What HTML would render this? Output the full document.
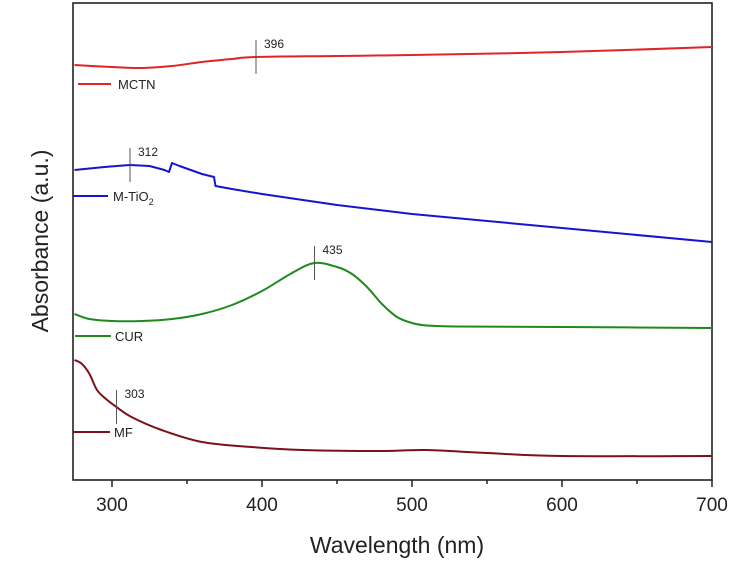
<!DOCTYPE html>
<html><head><meta charset="utf-8"><style>
body{margin:0;background:#fff}
svg{display:block;font-family:"Liberation Sans",Arial,sans-serif}
</style></head><body>
<svg id="chart" width="750" height="575">
<rect x="73" y="3" width="639" height="477" fill="none" stroke="#222" stroke-width="1.6"/>
<g id="ticks"></g>
<g id="series"></g>
<text x="397" y="553" font-size="23" text-anchor="middle" fill="#222">Wavelength (nm)</text>
<text transform="translate(48,241) rotate(-90)" font-size="23" text-anchor="middle" fill="#222">Absorbance (a.u.)</text>
</svg>
<script>
const xTicks=[300,400,500,600,700];
const xMinor=[350,450,550,650];
const mctnX=[275,300,320,340,360,380,396,450,500,600,700];
const mctnY=[4.14,4.12,4.11,4.13,4.17,4.20,4.22,4.23,4.24,4.27,4.32];
const tioX=[275,295,312,325,335,338,340,345,360,368,369,380,400,450,500,600,700];
const tioY=[3.09,3.12,3.14,3.13,3.09,3.07,3.16,3.13,3.05,3.02,2.93,2.90,2.85,2.74,2.65,2.51,2.37];
const curX=[275,285,300,320,340,360,380,400,420,435,450,460,470,480,490,500,510,530,600,700];
const curY=[1.65,1.60,1.58,1.58,1.60,1.65,1.74,1.88,2.06,2.16,2.12,2.05,1.92,1.75,1.62,1.56,1.535,1.525,1.52,1.51];
const mfX=[275,280,285,290,296,303,313,333,360,393,427,480,510,550,600,700];
const mfY=[1.19,1.15,1.05,0.89,0.80,0.72,0.62,0.49,0.37,0.32,0.29,0.28,0.29,0.26,0.23,0.23];
const seriesNames=["MCTN","M-TiO2","CUR","MF"];
const peaks=[396,312,435,303];
const NS="http://www.w3.org/2000/svg";
const xs=w=>112+(w-300)*1.5;
const ys=a=>479-a*100;
function mk(t,a,p){const e=document.createElementNS(NS,t);for(const k in a)e.setAttribute(k,a[k]);(p||document.getElementById('series')).appendChild(e);return e;}
function smooth(P){let d='M'+P[0][0]+','+P[0][1];for(let i=0;i<P.length-1;i++){const p0=P[Math.max(0,i-1)],p1=P[i],p2=P[i+1],p3=P[Math.min(P.length-1,i+2)];
const c1=[p1[0]+(p2[0]-p0[0])/6,p1[1]+(p2[1]-p0[1])/6],c2=[p2[0]-(p3[0]-p1[0])/6,p2[1]-(p3[1]-p1[1])/6];
d+=' C'+c1.join(',')+' '+c2.join(',')+' '+p2.join(',');}return d;}
const tg=document.getElementById('ticks');
xTicks.forEach(t=>{const l=mk('line',{x1:xs(t),x2:xs(t),y1:480,y2:487,stroke:'#222','stroke-width':1.5},tg);


const tx=mk('text',{x:xs(t),y:511,'font-size':19,'text-anchor':'middle',fill:'#222'},tg);tx.textContent=t;

});
xMinor.forEach(t=>{const l=mk('line',{x1:xs(t),x2:xs(t),y1:480,y2:484,stroke:'#222','stroke-width':1.5},tg);

});
const data=[[mctnX,mctnY,'#e02525'],[tioX,tioY,'#1515d0'],[curX,curY,'#1e8a1e'],[mfX,mfY,'#7a1218']];
const legend=[[78,111,84,118],[73,108,196,113],[75,111,336,115],[73,110,432,114]];
data.forEach((d,i)=>{
 const P=d[0].map((w,j)=>[xs(w),ys(d[1][j])]);
 let pl;
 if(i==1) pl=mk('polyline',{points:P.map(p=>p.join(',')).join(' '),fill:'none',stroke:d[2],'stroke-width':2,'stroke-linejoin':'round'});
 else pl=mk('path',{d:smooth(P),fill:'none',stroke:d[2],'stroke-width':2});
 
 
 const L=legend[i];
 const ll=mk('line',{x1:L[0],x2:L[1],y1:L[2],y2:L[2],stroke:d[2],'stroke-width':2});
 
 
 const lt=mk('text',{x:L[3],y:L[2]+5,'font-size':13,fill:'#222'});
 if(i==1){lt.innerHTML='M-TiO<tspan font-size="9" dy="4">2</tspan>';}else lt.textContent=seriesNames[i];
 
 
 const p=peaks[i];
 let k=0;while(k<d[0].length-2&&d[0][k+1]<p)k++;
 const f=(p-d[0][k])/(d[0][k+1]-d[0][k]);const v=d[1][k]+f*(d[1][k+1]-d[1][k]);
 const py=ys(v);
 const ml=mk('line',{x1:xs(p),x2:xs(p),y1:py-17,y2:py+17,stroke:'#555','stroke-width':1});
 
 
 const mt=mk('text',{x:xs(p)+8,y:py-9,'font-size':12,fill:'#222'});mt.textContent=p;
 
 
});
</script>
</body></html>
